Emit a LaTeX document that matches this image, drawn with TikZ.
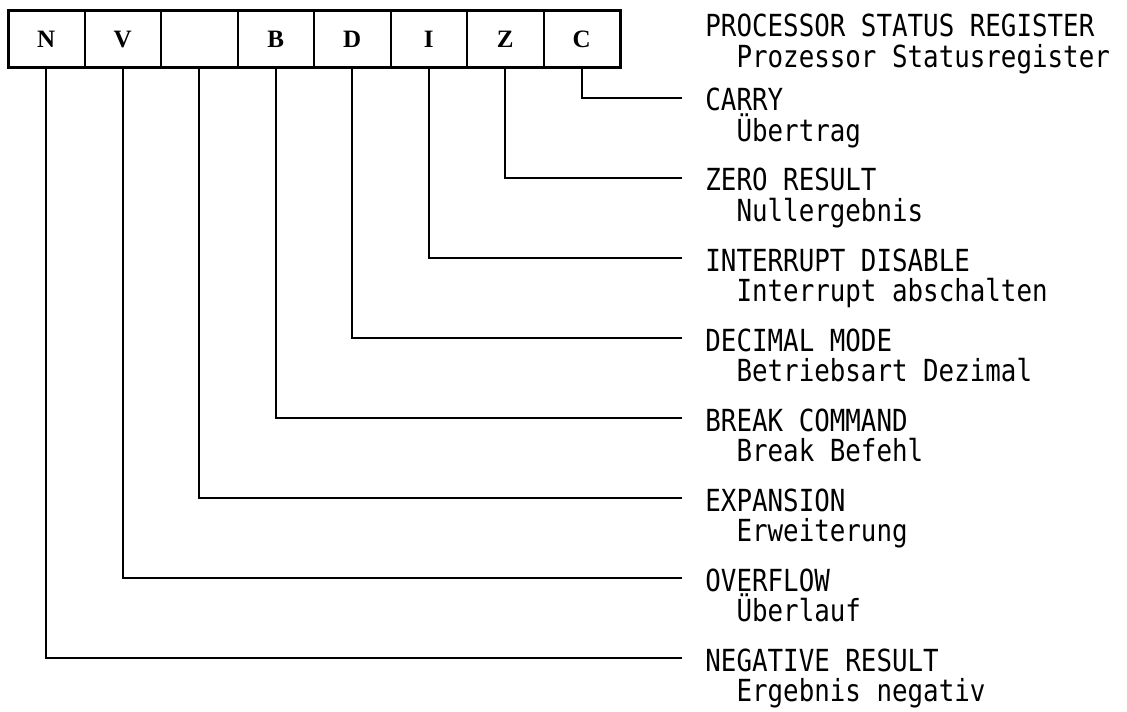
\documentclass[tikz,border=0pt]{standalone}
\usepackage{fontspec}
\usetikzlibrary{positioning}
\newfontfamily\regfont{Liberation Serif}
\newfontfamily\flagfont[FakeStretch=0.85]{DejaVu Sans Mono}

\begin{document}
\begin{tikzpicture}[
  x=0.5pt, y=-0.5pt,
  node distance=0pt,
  cell/.style={
    rectangle,
    draw,
    line width=1pt,
    outer sep=0pt,
    minimum width=38.25pt,
    minimum height=28.5pt,
    font=\regfont\bfseries\fontsize{12.5}{13}\selectfont
  },
  flag/.style={
    inner xsep=0pt,
    inner ysep=0pt,
    text height=14pt,
    text depth=1pt,
    anchor=west,
    font=\flagfont\fontsize{15.2}{15}\selectfont
  },
  desc/.style={
    flag,
    anchor=north west
  },
  lead/.style={
    line width=1pt,
    shorten >=11.5pt
  }
]
\useasboundingbox (0,0) rectangle (1127,711);

% Register cells
\node[cell] (N) at (46.25,39.5) {N};
\node[cell, right=of N] (V) {V};
\node[cell, right=of V] (X) {};
\node[cell, right=of X] (B) {B};
\node[cell, right=of B] (D) {D};
\node[cell, right=of D] (I) {I};
\node[cell, right=of I] (Z) {Z};
\node[cell, right=of Z] (C) {C};
\draw[line width=1.5pt] (N.north west) rectangle (C.south east);

% Title
\node[flag] (psr) at (705,24) {PROCESSOR STATUS REGISTER};
\node[desc] (psrde) at (psr.south west) {\phantom{XX}Prozessor Statusregister};

% Flags
\node[flag] (carry) at (705,98) {CARRY};
\node[desc] (carryde) at (carry.south west) {\phantom{XX}Übertrag};
\node[flag] (zero) at (705,178) {ZERO RESULT};
\node[desc] (zerode) at (zero.south west) {\phantom{XX}Nullergebnis};
\node[flag] (intr) at (705,258) {INTERRUPT DISABLE};
\node[desc] (intrde) at (intr.south west) {\phantom{XX}Interrupt abschalten};
\node[flag] (dec) at (705,338) {DECIMAL MODE};
\node[desc] (decde) at (dec.south west) {\phantom{XX}Betriebsart Dezimal};
\node[flag] (brk) at (705,418) {BREAK COMMAND};
\node[desc] (brkde) at (brk.south west) {\phantom{XX}Break Befehl};
\node[flag] (exp) at (705,498) {EXPANSION};
\node[desc] (expde) at (exp.south west) {\phantom{XX}Erweiterung};
\node[flag] (ovf) at (705,578) {OVERFLOW};
\node[desc] (ovfde) at (ovf.south west) {\phantom{XX}Überlauf};
\node[flag] (neg) at (705,658) {NEGATIVE RESULT};
\node[desc] (negde) at (neg.south west) {\phantom{XX}Ergebnis negativ};

% Leads
\draw[lead] (C.south) |- (carry.west);
\draw[lead] (Z.south) |- (zero.west);
\draw[lead] (I.south) |- (intr.west);
\draw[lead] (D.south) |- (dec.west);
\draw[lead] (B.south) |- (brk.west);
\draw[lead] (X.south) |- (exp.west);
\draw[lead] (V.south) |- (ovf.west);
\draw[lead] (N.south) |- (neg.west);

\end{tikzpicture}
\end{document}
